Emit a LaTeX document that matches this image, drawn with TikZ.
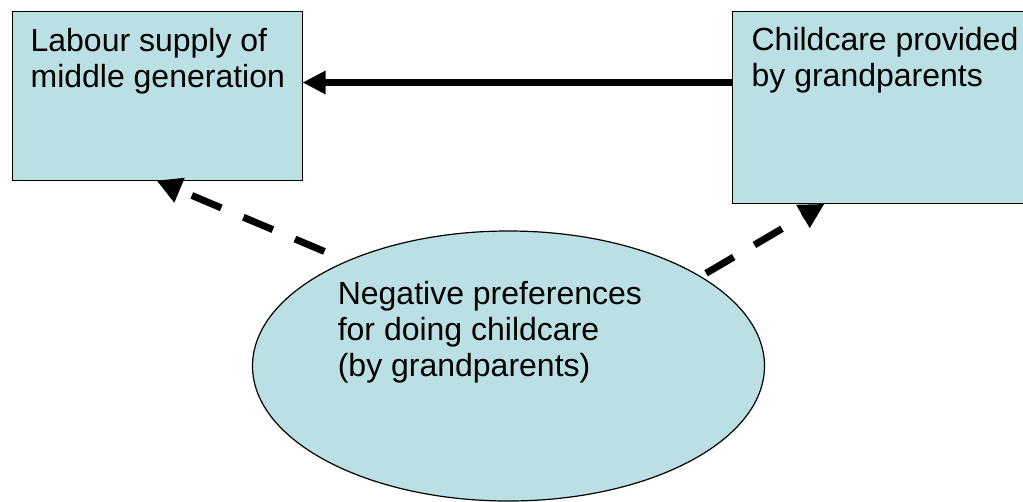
\documentclass[tikz,border=0pt]{standalone}
\usepackage{fontspec}
\setmainfont{Liberation Sans}
\usetikzlibrary{arrows.meta,shapes.geometric}
\definecolor{boxfill}{RGB}{187,224,227}
\begin{document}
\begin{tikzpicture}[x=1pt,y=-1pt,
  box/.style={draw=black, line width=1pt, fill=boxfill, rectangle, inner sep=0pt},
  oval/.style={ellipse, draw=black, line width=1.2pt, fill=boxfill, inner sep=0pt,
    minimum width=512pt, minimum height=270pt},
  lbl/.style={anchor=north west, inner sep=0pt, align=left,
    font=\fontsize{32pt}{36pt}\selectfont},
  causal/.style={line width=7pt, -{Triangle[length=23pt,width=22pt]}},
  weak/.style={line width=7pt, dash pattern=on 32pt off 24pt,
    -{Triangle[length=25pt,width=25pt]}}]
\useasboundingbox (0,0) rectangle (1023,501);
\fill[white] (0,0) rectangle (1023,501);
\clip (0,0) rectangle (1023,501);
\node[box, minimum width=290pt, minimum height=169pt] (lbox) at (157,95.5) {};
\node[box, minimum width=307.5pt, minimum height=192.3pt] (rbox) at (886.25,107.15) {};
\node[oval] (ell) at (508.5,366) {};
\node[lbl] (ltext) at (30.4,27.7) {Labour supply of\\middle generation};
\node[lbl] (rtext) at (751.4,27) {Childcare provided\\by grandparents};
\node[lbl] (etext) at (337.6,280.7) {Negative preferences\\for doing childcare\\(by grandparents)};
\coordinate (ltip) at ([xshift=145pt]lbox.south west);
\coordinate (rtip) at ([xshift=92.5pt]rbox.south west);
\draw[causal] ([yshift=-72pt]rbox.north west) -- ([yshift=-72pt]lbox.north east);
\draw[weak, dash phase=32pt] (ell.147) -- (ltip);
\draw[weak, dash phase=50pt] (ell.25) -- (rtip);
\end{tikzpicture}
\end{document}
